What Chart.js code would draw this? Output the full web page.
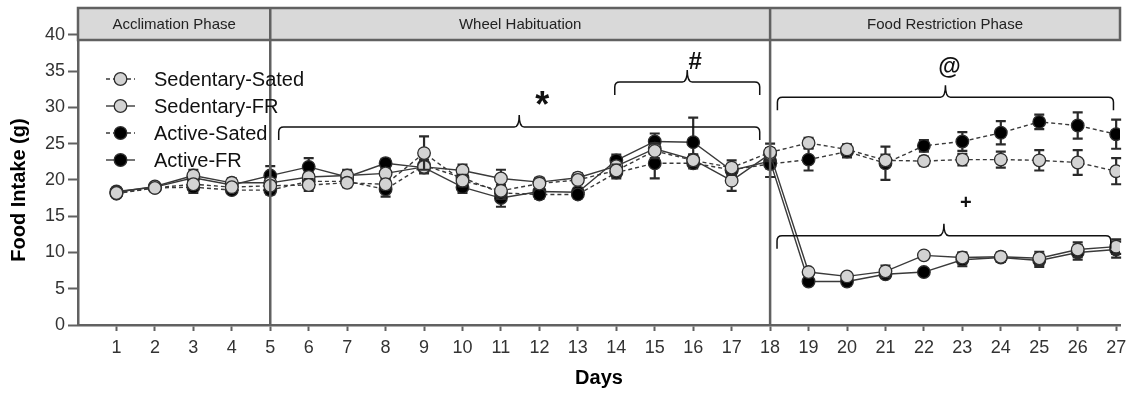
<!DOCTYPE html>
<html>
<head>
<meta charset="utf-8">
<script src="https://cdn.jsdelivr.net/npm/chart.js@4.4.1/dist/chart.umd.min.js"></script>
<style>
  html, body { margin: 0; padding: 0; background: #fff; }
  #wrap { width: 1128px; height: 393px; position: relative; }
</style>
</head>
<body>
<div id="wrap"><canvas id="c" width="1128" height="393"></canvas></div>
<script>
// Daily food intake (g), mean per group
const days = [1, 2, 3, 4, 5, 6, 7, 8, 9, 10, 11, 12, 13, 14, 15, 16, 17, 18, 19, 20, 21, 22, 23, 24, 25, 26, 27];
const sedentarySated = [18.2, 18.9, 19.4, 19.0, 19.2, 19.3, 19.6, 19.4, 23.7, 19.9, 18.5, 19.5, 20.0, 21.3, 24.0, 22.7, 21.7, 23.8, 25.1, 24.2, 22.7, 22.6, 22.8, 22.8, 22.7, 22.4, 21.2];
const sedentaryFR    = [18.3, 19.1, 20.6, 19.6, 19.6, 20.4, 20.6, 20.9, 21.8, 21.3, 20.2, 19.7, 20.3, 21.9, 24.3, 22.8, 19.9, 23.6, 7.3, 6.7, 7.4, 9.6, 9.3, 9.4, 9.2, 10.4, 10.8];
const activeSated    = [18.1, 18.9, 19.0, 18.6, 18.6, 19.8, 19.8, 18.7, 22.0, 20.3, 18.2, 18.0, 18.0, 21.0, 22.3, 22.3, 21.4, 22.2, 22.8, 23.9, 22.3, 24.7, 25.3, 26.5, 28.0, 27.5, 26.3];
const activeFR       = [18.4, 19.0, 20.3, 19.3, 20.6, 21.8, 20.4, 22.3, 21.7, 19.0, 17.5, 18.4, 18.3, 22.7, 25.3, 25.2, 21.3, 22.6, 6.0, 6.0, 7.0, 7.3, 9.0, 9.3, 8.9, 10.0, 10.4];

// Standard error of the mean per group
const semSedentarySated = [0.5, 0.5, 0.6, 0.5, 0.6, 0.8, 0.6, 0.7, 2.3, 0.8, 0.8, 0.6, 0.6, 0.8, 1.0, 0.8, 1.0, 1.2, 0.7, 0.7, 0.8, 0.6, 0.8, 1.1, 1.4, 1.7, 1.8];
const semSedentaryFR    = [0.4, 0.4, 0.8, 0.6, 0.5, 0.6, 0.8, 0.6, 0.6, 0.8, 1.2, 0.6, 0.6, 0.6, 0.7, 0.7, 1.4, 0.8, 0.3, 0.3, 0.8, 0.3, 0.7, 0.6, 0.9, 1.0, 1.0];
const semActiveSated    = [0.4, 0.4, 0.8, 0.4, 0.6, 0.6, 0.6, 1.0, 0.8, 0.8, 0.8, 0.6, 0.5, 0.8, 2.1, 0.7, 0.8, 1.8, 1.5, 0.8, 2.3, 0.8, 1.3, 1.6, 1.0, 1.8, 2.0];
const semActiveFR       = [0.5, 0.5, 0.8, 0.5, 1.3, 1.2, 0.8, 0.6, 0.8, 0.8, 1.2, 0.8, 0.6, 0.8, 1.1, 3.4, 0.8, 1.0, 0.3, 0.5, 0.5, 0.3, 0.9, 0.6, 0.9, 1.0, 1.1];

const seriesNames = ['Sedentary-Sated', 'Sedentary-FR', 'Active-Sated', 'Active-FR'];
const yTickValues = [0, 5, 10, 15, 20, 25, 30, 35, 40];
const xTickValues = days;

// Experimental phases: name, first day boundary, last day boundary
const phaseNames  = ['Acclimation Phase', 'Wheel Habituation', 'Food Restriction Phase'];
const phaseStarts = [0, 5, 18];
const phaseEnds   = [5, 18, 27.1];

// Significance braces (day span, level of the brace, marker)
const braceSymbols = ['*', '#', '@', '+'];
const braceFrom    = [5.22, 13.96, 18.19, 18.18];
const braceTo      = [17.73, 17.73, 26.93, 26.86];
const braceLevel   = [27.3, 33.5, 31.4, 12.3];

const FONT = '"Liberation Sans", Arial, Helvetica, sans-serif';
const LINE = '#3a3a3a';
const AXIS = '#616161';
const GRAY = '#d3d3d3';

Chart.defaults.font.family = FONT;
Chart.defaults.color = '#333';

function makeSeries(label, values, sem, fill, dashed) {
  return {
    label,
    data: days.map((d, i) => ({ x: d, y: values[i] })),
    sem,
    borderColor: LINE,
    borderWidth: 1.4,
    borderDash: dashed ? [4, 3] : [],
    backgroundColor: fill,
    pointBackgroundColor: fill,
    pointBorderColor: '#2e2e2e',
    pointBorderWidth: 1.3,
    pointRadius: 6.3,
    pointHoverRadius: 6.3,
    tension: 0,
    fill: false
  };
}

const datasets = [
  makeSeries(seriesNames[0], sedentarySated, semSedentarySated, GRAY, true),
  makeSeries(seriesNames[1], sedentaryFR, semSedentaryFR, GRAY, false),
  makeSeries(seriesNames[2], activeSated, semActiveSated, '#000', true),
  makeSeries(seriesNames[3], activeFR, semActiveFR, '#000', false)
];

// Error bars, drawn right before each dataset's line and markers
const errorBars = {
  id: 'errorBars',
  beforeDatasetDraw(chart, args) {
    const { ctx, scales: { y } } = chart;
    const ds = chart.data.datasets[args.index];
    const meta = args.meta;
    ctx.save();
    ctx.strokeStyle = '#2a2a2a';
    ctx.lineWidth = 2.2;
    ctx.setLineDash([]);
    meta.data.forEach((pt, i) => {
      const v = ds.data[i].y, e = ds.sem[i];
      if (!e) return;
      const yt = y.getPixelForValue(v + e);
      const yb = y.getPixelForValue(v - e);
      ctx.beginPath();
      ctx.moveTo(pt.x, yt); ctx.lineTo(pt.x, yb);
      ctx.moveTo(pt.x - 5, yt); ctx.lineTo(pt.x + 5, yt);
      ctx.moveTo(pt.x - 5, yb); ctx.lineTo(pt.x + 5, yb);
      ctx.stroke();
    });
    ctx.restore();
  }
};

// Phase header band, phase dividers, braces, legend and axis titles
const decorations = {
  id: 'decorations',
  afterDatasetsDraw(chart) {
    const { ctx, chartArea: ca, scales: { x, y } } = chart;
    ctx.save();

    // header band
    const hTop = ca.top, hBot = ca.top + 32;
    ctx.fillStyle = '#d9d9d9';
    ctx.fillRect(ca.left, hTop, ca.right - ca.left, hBot - hTop);
    ctx.strokeStyle = AXIS;
    ctx.lineWidth = 2.5;
    ctx.strokeRect(ca.left, hTop, ca.right - ca.left, hBot - hTop);

    // phase dividers
    ctx.beginPath();
    phaseStarts.slice(1).forEach(d => {
      const px = x.getPixelForValue(d);
      ctx.moveTo(px, hTop); ctx.lineTo(px, ca.bottom);
    });
    ctx.stroke();

    // phase names
    ctx.fillStyle = '#222';
    ctx.font = '15px ' + FONT;
    ctx.textAlign = 'center';
    ctx.textBaseline = 'middle';
    phaseNames.forEach((n, i) => {
      const cx = (x.getPixelForValue(phaseStarts[i]) + x.getPixelForValue(phaseEnds[i])) / 2;
      ctx.fillText(n, cx, (hTop + hBot) / 2 + 1);
    });

    // significance braces
    ctx.strokeStyle = '#111';
    ctx.lineWidth = 1.5;
    braceSymbols.forEach((s, i) => {
      const x0 = x.getPixelForValue(braceFrom[i]);
      const x1 = x.getPixelForValue(braceTo[i]);
      const yl = y.getPixelForValue(braceLevel[i]);
      const xm = (x0 + x1) / 2;
      const drop = 13, rise = 12, r = 5;
      ctx.beginPath();
      ctx.moveTo(x0, yl + drop);
      ctx.lineTo(x0, yl + r);
      ctx.quadraticCurveTo(x0, yl, x0 + r, yl);
      ctx.lineTo(xm - r, yl);
      ctx.quadraticCurveTo(xm, yl, xm, yl - rise);
      ctx.quadraticCurveTo(xm, yl, xm + r, yl);
      ctx.lineTo(x1 - r, yl);
      ctx.quadraticCurveTo(x1, yl, x1, yl + r);
      ctx.lineTo(x1, yl + drop);
      ctx.stroke();

      ctx.fillStyle = '#111';
      ctx.textAlign = 'center';
      ctx.textBaseline = 'middle';
      if (s === '*') {
        ctx.font = 'bold 36px ' + FONT;
        ctx.fillText(s, xm + 23, yl - 20);
      } else if (s === '#') {
        ctx.font = 'bold 24px ' + FONT;
        ctx.fillText(s, xm + 8, yl - 20);
      } else if (s === '@') {
        ctx.font = 'bold 23px ' + FONT;
        ctx.fillText(s, xm + 4, yl - 30);
      } else {
        ctx.font = 'bold 20px ' + FONT;
        ctx.fillText(s, xm + 22, yl - 32);
      }
    });

    // legend
    const lx0 = 106, lx1 = 135, tx = 154;
    const rows = [79, 106, 133, 160];
    chart.data.datasets.forEach((ds, i) => {
      const ly = rows[i];
      ctx.strokeStyle = LINE;
      ctx.lineWidth = 1.4;
      ctx.setLineDash(ds.borderDash);
      ctx.beginPath(); ctx.moveTo(lx0, ly); ctx.lineTo(lx1, ly); ctx.stroke();
      ctx.setLineDash([]);
      ctx.beginPath();
      ctx.arc((lx0 + lx1) / 2, ly, 6.3, 0, Math.PI * 2);
      ctx.fillStyle = ds.pointBackgroundColor;
      ctx.fill();
      ctx.lineWidth = 1.3;
      ctx.strokeStyle = '#2e2e2e';
      ctx.stroke();
      ctx.fillStyle = '#111';
      ctx.font = '20px ' + FONT;
      ctx.textAlign = 'left';
      ctx.textBaseline = 'middle';
      ctx.fillText(ds.label, tx, ly + 1);
    });

    // axis titles
    ctx.fillStyle = '#000';
    ctx.font = 'bold 20px ' + FONT;
    ctx.textAlign = 'center';
    ctx.textBaseline = 'middle';
    ctx.fillText('Days', (ca.left + ca.right) / 2, 378);
    ctx.translate(19, 190);
    ctx.rotate(-Math.PI / 2);
    ctx.fillText('Food Intake (g)', 0, 0);

    ctx.restore();
  }
};

new Chart(document.getElementById('c'), {
  type: 'line',
  data: { datasets },
  options: {
    responsive: false,
    animation: false,
    events: [],
    layout: { padding: { left: 0, right: 8, top: 8, bottom: 0 } },
    plugins: { legend: { display: false }, tooltip: { enabled: false } },
    scales: {
      x: {
        type: 'linear',
        min: 0,
        max: 27.1,
        afterBuildTicks: s => { s.ticks = xTickValues.map(v => ({ value: v })); },
        afterFit: s => { s.height = 68; s.paddingLeft = 0; s.paddingRight = 0; },
        ticks: { stepSize: 1, autoSkip: false, maxRotation: 0, padding: 6, color: '#333', font: { size: 18 } },
        grid: { display: true, drawOnChartArea: false, drawTicks: true, tickLength: 6, tickWidth: 2, color: AXIS },
        border: { display: true, color: AXIS, width: 2.5 }
      },
      y: {
        type: 'linear',
        min: 0,
        max: 43.7,
        afterBuildTicks: s => { s.ticks = yTickValues.map(v => ({ value: v })); },
        afterFit: s => { s.width = 78; s.paddingTop = 0; s.paddingBottom = 0; },
        ticks: { stepSize: 5, padding: 3, color: '#333', font: { size: 18 } },
        grid: { display: true, drawOnChartArea: false, drawTicks: true, tickLength: 10, tickWidth: 2, color: AXIS },
        border: { display: true, color: AXIS, width: 2.5 }
      }
    }
  },
  plugins: [errorBars, decorations]
});
</script>
</body>
</html>
